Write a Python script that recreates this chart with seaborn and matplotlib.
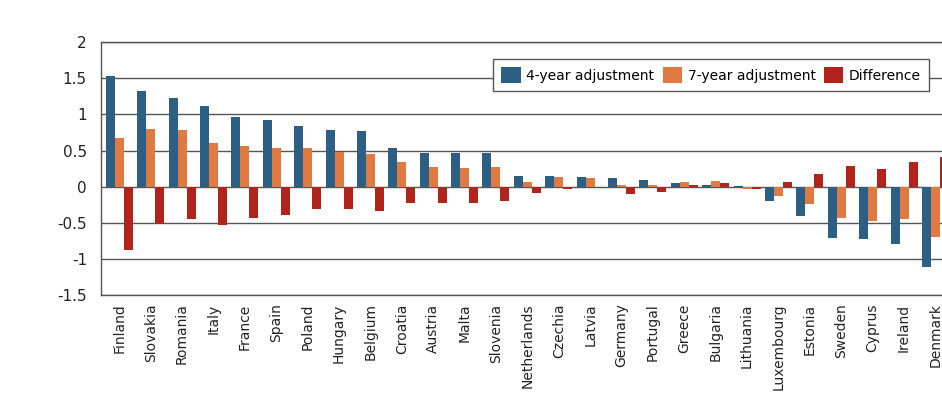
import pandas as pd
import seaborn as sns
import matplotlib.pyplot as plt

countries = ['Finland', 'Slovakia', 'Romania', 'Italy', 'France', 'Spain', 'Poland',
             'Hungary', 'Belgium', 'Croatia', 'Austria', 'Malta', 'Slovenia',
             'Netherlands', 'Czechia', 'Latvia', 'Germany', 'Portugal', 'Greece',
             'Bulgaria', 'Lithuania', 'Luxembourg', 'Estonia', 'Sweden', 'Cyprus',
             'Ireland', 'Denmark']
adj_4y = [1.53, 1.32, 1.22, 1.12, 0.97, 0.92, 0.84, 0.79, 0.77, 0.54, 0.47, 0.47, 0.47,
          0.15, 0.15, 0.14, 0.12, 0.09, 0.05, 0.03, 0.01, -0.20, -0.41, -0.71, -0.72,
          -0.79, -1.11]
adj_7y = [0.67, 0.80, 0.79, 0.60, 0.56, 0.53, 0.53, 0.48, 0.45, 0.34, 0.27, 0.26, 0.27,
          0.07, 0.13, 0.12, 0.03, 0.02, 0.07, 0.08, -0.03, -0.13, -0.24, -0.43, -0.48,
          -0.45, -0.69]
diff = [-0.87, -0.52, -0.44, -0.53, -0.43, -0.39, -0.31, -0.31, -0.34, -0.22, -0.22,
        -0.22, -0.20, -0.09, -0.03, -0.02, -0.10, -0.08, 0.03, 0.05, -0.03, 0.07, 0.17,
        0.28, 0.25, 0.34, 0.41]
series_names = ['4-year adjustment', '7-year adjustment', 'Difference']
colors = ['#2B5F84', '#E07A42', '#B2231B']

# long format for seaborn
df = pd.DataFrame({
    'country': countries * 3,
    'series': [series_names[0]] * len(countries) + [series_names[1]] * len(countries)
              + [series_names[2]] * len(countries),
    'value': adj_4y + adj_7y + diff,
})

fig = plt.figure(figsize=(9.42, 4.01), dpi=100)
# axes runs past the right edge, like the cropped original
ax = fig.add_axes([0.107, 0.264, 0.906, 0.631])

sns.barplot(data=df, x='country', y='value', hue='series', palette=colors,
            width=0.86, saturation=1, ax=ax, legend=True)

ax.set_xlim(-0.59, 26.6)
ax.set_ylim(-1.5, 2)
ax.set_yticks([-1.5, -1, -0.5, 0, 0.5, 1, 1.5, 2])
ax.set_yticklabels(['-1.5', '-1', '-0.5', '0', '0.5', '1', '1.5', '2'])
ax.yaxis.grid(True, color='#555555', linewidth=1)
ax.set_axisbelow(True)
ax.tick_params(axis='both', length=0, labelsize=10, colors='#222222')
ax.tick_params(axis='y', labelsize=11, pad=10)
ax.tick_params(axis='x', pad=6)
plt.setp(ax.get_xticklabels(), rotation=90)
ax.set_xlabel('')
ax.set_ylabel('')
for s in ax.spines.values():
    s.set_color('#555555')
    s.set_linewidth(1)

handles, labels = ax.get_legend_handles_labels()
ax.get_legend().remove()
leg = fig.legend(handles, labels, loc='center', bbox_to_anchor=(0.755, 0.813),
                 ncol=3, fontsize=10, frameon=True, fancybox=False,
                 edgecolor='#555555', framealpha=1, handlelength=1.4, handleheight=1.4,
                 handletextpad=0.4, columnspacing=0.6, borderpad=0.6)
leg.get_frame().set_linewidth(1)

fig.savefig('out.png', dpi=100)
